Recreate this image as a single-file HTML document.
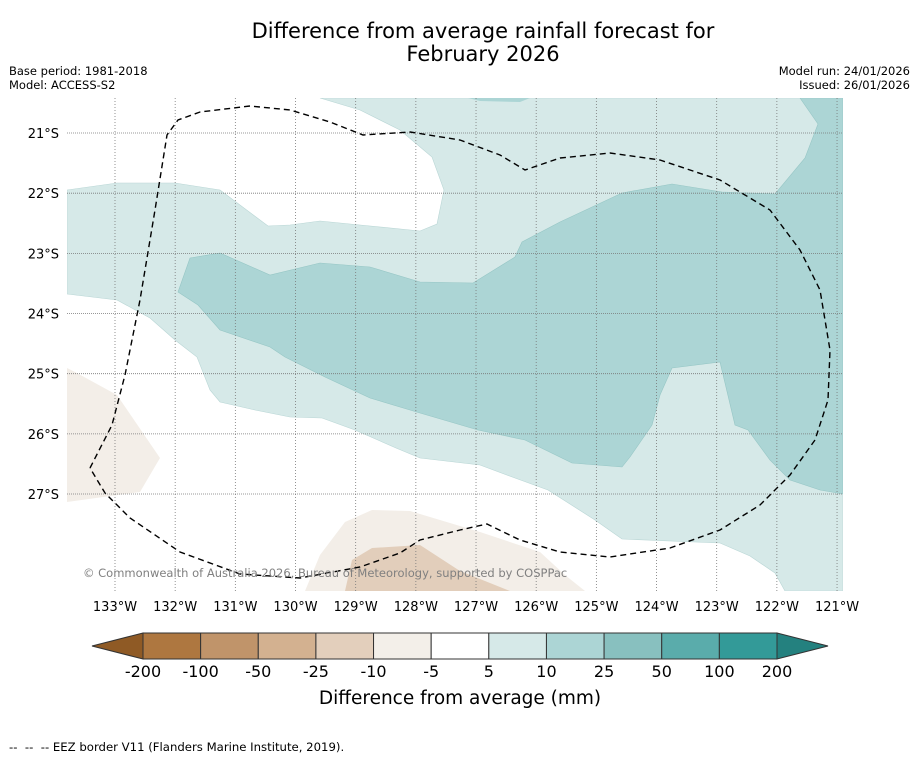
<!DOCTYPE html>
<html><head><meta charset="utf-8">
<style>
body{margin:0;background:#fff;font-family:"DejaVu Sans","Liberation Sans",sans-serif;}
svg{display:block}
</style></head>
<body>
<svg id="chart" width="919" height="758" viewBox="0 0 919 758" xmlns="http://www.w3.org/2000/svg">
<text x="483" y="38" text-anchor="middle" font-size="21">Difference from average rainfall forecast for</text>
<text x="483" y="61" text-anchor="middle" font-size="21">February 2026</text>
<text x="9" y="75" font-size="11.5">Base period: 1981-2018</text>
<text x="9" y="89" font-size="11.5">Model: ACCESS-S2</text>
<text x="910" y="75" font-size="11.5" text-anchor="end">Model run: 24/01/2026</text>
<text x="910" y="89" font-size="11.5" text-anchor="end">Issued: 26/01/2026</text>
<defs><clipPath id="mapclip"><rect x="67" y="98" width="776" height="493"/></clipPath></defs>
<g id="map" clip-path="url(#mapclip)">
<polygon fill="#d6e9e8" stroke="#b9d6d5" stroke-width="0.6" points="67,190 117,183 175,183 220,190 268,226 290,225 320,221 360,225 420,231 437,224 444,190 432,157 400,130 360,110 320,98 843,98 843,591 785,591 775,573 750,556 720,543 622,539 595,520 548,490 515,478 480,465 420,458 396,448 355,430 322,418 290,417 255,410 220,402 210,390 197,357 175,340 150,318 117,300 67,294"/>
<polygon fill="#acd5d5" points="468,98 530,98 520,102 480,101"/>
<polygon fill="#acd5d5" stroke="#96c6c5" stroke-width="0.6" points="190,258 220,253 270,275 320,263 370,267 420,282 473,283 515,257 522,242 560,222 622,193 672,184 722,192 775,194 805,158 818,124 800,98 843,98 843,494 820,490 790,480 770,460 748,430 735,425 720,362 672,368 660,395 652,425 630,457 622,467 572,463 525,440 478,430 420,413 370,398 325,377 285,357 270,347 220,330 198,305 178,292"/>
<polygon fill="#f3eee8" points="67,368 75,372 117,395 160,458 140,492 67,502"/>
<polygon fill="#f3eee8" points="305,591 320,555 345,522 372,510 410,511 480,532 540,552 565,575 585,591"/>
<polygon fill="#e2cebb" points="345,591 352,560 372,548 420,545 460,571 485,581 510,591"/>
<g id="grid"></g>
<polyline fill="none" stroke="#000" stroke-width="1.4" stroke-dasharray="6,4" points="90,468 112,425 125,375 140,300 155,210 167,135 178,120 200,112 250,106 290,110 330,122 363,135 410,132 460,140 500,155 525,170 560,158 610,153 660,160 720,180 770,210 800,250 820,290 830,350 828,400 815,440 790,475 760,505 720,530 670,548 610,557 560,552 520,540 487,524 460,530 420,540 400,553 360,567 300,578 240,574 180,552 130,518 105,493 90,468"/>
<text x="83" y="577" font-size="11.5" fill="#808080">© Commonwealth of Australia 2026, Bureau of Meteorology, supported by COSPPac</text>
</g>
<g id="axes"></g>
<g id="cbar"></g>
<text x="460" y="704" text-anchor="middle" font-size="18.5">Difference from average (mm)</text>
<text x="9" y="751" font-size="11.7" xml:space="preserve">--  --  -- EEZ border V11 (Flanders Marine Institute, 2019).</text>
</svg>
<script>
const lonTicks=[133,132,131,130,129,128,127,126,125,124,123,122,121];
const latTicks=[21,22,23,24,25,26,27];
const cbarLabels=["-200","-100","-50","-25","-10","-5","5","10","25","50","100","200"];
const cbarColors=["#ae7740","#c0946a","#d3b190","#e3cfbc","#f3efe9","#ffffff","#d6e9e8","#acd5d5","#88c0bf","#5aacab","#339a98"];
const NS="http://www.w3.org/2000/svg";
function xLon(l){return 115+(133-l)*60.17;}
function yLat(l){return 133+(l-21)*60.17;}
function mk(t,a,p){const e=document.createElementNS(NS,t);for(const k in a)e.setAttribute(k,a[k]);p.appendChild(e);return e;}
const grid=document.getElementById('grid'),axes=document.getElementById('axes'),cb=document.getElementById('cbar');
lonTicks.forEach(l=>{
 const ln=mk('line',{x1:xLon(l),x2:xLon(l),y1:98,y2:591,stroke:'#777','stroke-width':0.8,'stroke-dasharray':'1,2'},grid);
 
 
 const t=mk('text',{x:xLon(l),y:611,'text-anchor':'middle','font-size':13},axes);
 t.textContent=l+'°W';
 
 
});
latTicks.forEach(l=>{
 const ln=mk('line',{x1:67,x2:843,y1:yLat(l),y2:yLat(l),stroke:'#777','stroke-width':0.8,'stroke-dasharray':'1,1'},grid);
 
 
 const t=mk('text',{x:59,y:yLat(l)+5,'text-anchor':'end','font-size':13},axes);
 t.textContent=l+'°S';
 
 
});
const x0=143,x1=777,y0=633,h=26,w=(x1-x0)/cbarColors.length;
const la=mk('polygon',{points:`${x0},${y0} 92,${y0+h/2} ${x0},${y0+h}`,fill:'#8f5a25',stroke:'#333','stroke-width':1},cb);


const ra=mk('polygon',{points:`${x1},${y0} 828,${y0+h/2} ${x1},${y0+h}`,fill:'#24817f',stroke:'#333','stroke-width':1},cb);


cbarColors.forEach((c,i)=>{
 const r=mk('rect',{x:x0+i*w,y:y0,width:w,height:h,fill:c,stroke:'#333','stroke-width':1},cb);
 
 
});
cbarLabels.forEach((s,i)=>{
 const t=mk('text',{x:x0+i*w,y:677,'text-anchor':'middle','font-size':16},cb);
 t.textContent=s;
 
 
});
</script>
</body></html>
